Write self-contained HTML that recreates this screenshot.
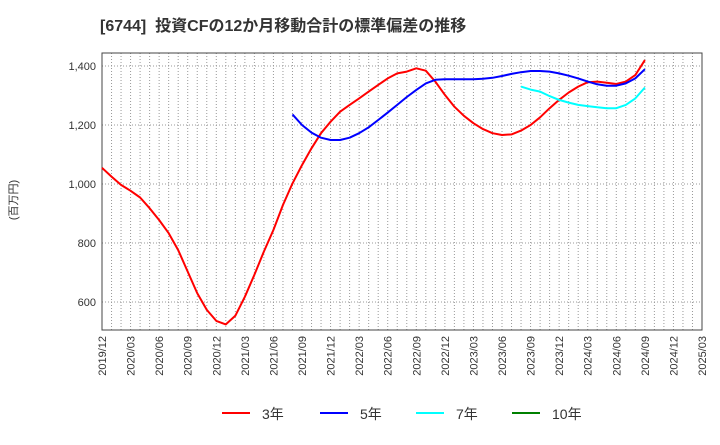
<!DOCTYPE html>
<html><head><meta charset="utf-8"><style>
body{margin:0;background:#fff;font-family:"Liberation Sans","Noto Sans CJK JP",sans-serif;}
svg text{font-family:"Liberation Sans","Noto Sans CJK JP",sans-serif;}
</style></head><body>
<svg id="c" width="720" height="440">
<text x="100" y="31" font-size="16" font-weight="bold" fill="#333" xml:space="preserve">[6744]  投資CFの12か月移動合計の標準偏差の推移</text>
<text transform="translate(17,200) rotate(-90)" font-size="11" fill="#333" text-anchor="middle">(百万円)</text>
</svg>
<script>
const categories=[];for(let y=2019,m=12;categories.length<64;){categories.push(y+'/'+String(m).padStart(2,'0'));m++;if(m>12){m=1;y++;}}
const xTickLabels=['2019/12','2020/03','2020/06','2020/09','2020/12','2021/03','2021/06','2021/09','2021/12','2022/03','2022/06','2022/09','2022/12','2023/03','2023/06','2023/09','2023/12','2024/03','2024/06','2024/09','2024/12','2025/03'];
const yTicks=[600,800,1000,1200,1400];
const s3=[1055,1025,997,977,954,918,878,833,776,703,630,573,536,524,553,618,692,771,844,929,1002,1064,1121,1172,1211,1245,1268,1290,1313,1336,1358,1375,1381,1392,1384,1347,1302,1262,1231,1206,1186,1172,1166,1168,1181,1200,1226,1257,1285,1310,1330,1345,1347,1343,1339,1347,1369,1420];
const s5Start=20;
const s5=[1236,1200,1174,1157,1149,1149,1157,1172,1192,1217,1242,1268,1295,1319,1341,1353,1355,1355,1355,1355,1357,1360,1366,1373,1379,1383,1383,1381,1375,1367,1358,1347,1338,1333,1333,1341,1358,1389];
const s7Start=44;
const s7=[1330,1320,1313,1298,1285,1276,1268,1264,1260,1257,1257,1268,1290,1327];
const s10=[];
const L=102,R=702,T=53,B=330,YMIN=505,YMAX=1444,NM=63;
const xs=i=>L+(R-L)*i/NM;
const ys=v=>B-(v-YMIN)/(YMAX-YMIN)*(B-T);
const svg=document.getElementById('c');const NS='http://www.w3.org/2000/svg';
function mk(t,a,p){const e=document.createElementNS(NS,t);for(const k in a)e.setAttribute(k,a[k]);(p||svg).appendChild(e);return e;}
const grid=mk('g',{});


for(let i=1;i<NM;i++){mk('line',{x1:xs(i),x2:xs(i),y1:T,y2:B,stroke:'#999','stroke-dasharray':'1,2','stroke-width':1},grid);}
yTicks.forEach(v=>{mk('line',{x1:L,x2:R,y1:ys(v),y2:ys(v),stroke:'#999','stroke-dasharray':'1,2','stroke-width':1},grid);
const t=mk('text',{x:L-6,y:ys(v)+4,'font-size':11,'text-anchor':'end',fill:'#333'});


t.textContent=v.toLocaleString('en-US');});
xTickLabels.forEach(lab=>{const i=categories.indexOf(lab);const x=xs(i);
const t=mk('text',{transform:`translate(${x+4},336) rotate(-90)`,'font-size':11,'text-anchor':'end',fill:'#333'});


t.textContent=lab;});
const box=mk('rect',{x:L,y:T,width:R-L,height:B-T,fill:'none',stroke:'#444','stroke-width':1});


function line(vals,start,color,name){if(!vals.length)return;const d=vals.map((v,k)=>(k?'L':'M')+xs(start+k).toFixed(1)+','+ys(v).toFixed(1)).join('');
const p=mk('path',{d:d,fill:'none',stroke:color,'stroke-width':2,'stroke-linejoin':'round'});

}
line(s3,0,'#ff0000','series-3y');
line(s5,s5Start,'#0000ff','series-5y');
line(s7,s7Start,'#00ffff','series-7y');
line(s10,0,'#008000','series-10y');
const leg=[['3年','#ff0000',222],['5年','#0000ff',320],['7年','#00ffff',416],['10年','#008000',512]];
leg.forEach(([n,c,x])=>{const g=mk('g',{});


mk('line',{x1:x,x2:x+28,y1:413,y2:413,stroke:c,'stroke-width':2},g);
const t=mk('text',{x:x+40,y:419,'font-size':14,fill:'#333'},g);t.textContent=n;});
</script>
</body></html>
